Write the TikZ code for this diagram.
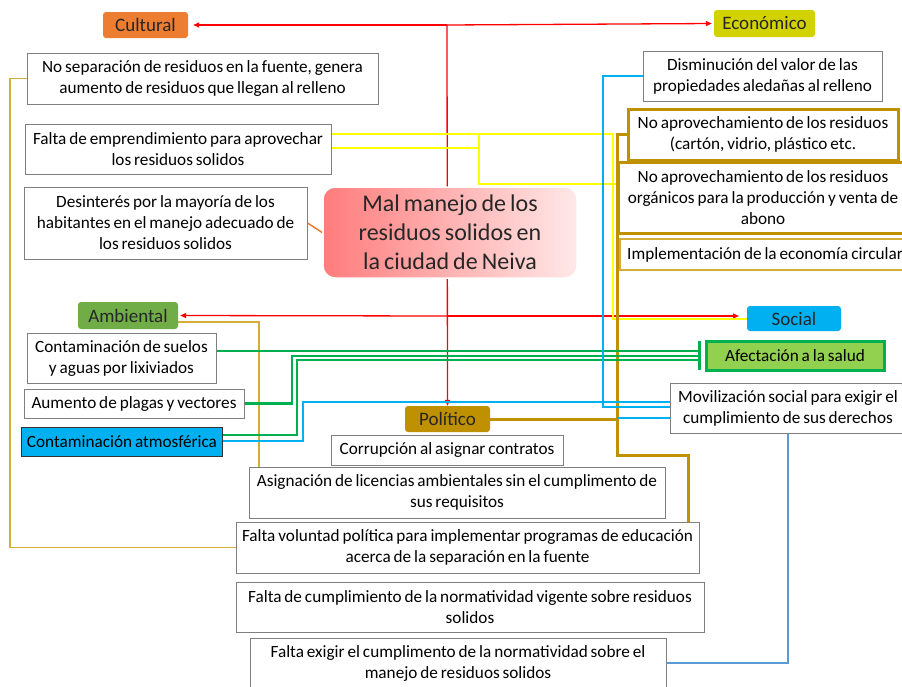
\documentclass[tikz,border=0pt]{standalone}
\usepackage{fontspec}
\setmainfont{Carlito}[WordSpace=0.75]
\usetikzlibrary{arrows.meta}
\pgfdeclarelayer{background}
\pgfsetlayers{background,main}

\definecolor{cOrange}{HTML}{ED7D31}
\definecolor{cYellow}{HTML}{D2D200}
\definecolor{cGreen}{HTML}{70AD47}
\definecolor{cCyan}{HTML}{00B0F0}
\definecolor{cGold}{HTML}{BF9000}
\definecolor{cGoldLt}{HTML}{D4AE3A}
\definecolor{cHealth}{HTML}{92D050}
\definecolor{cHealthBd}{HTML}{00B050}
\definecolor{cLineGreen}{HTML}{00B050}
\definecolor{cLineYellow}{HTML}{FFFF00}
\definecolor{cLightBlue}{HTML}{5B9BD5}
\definecolor{cBorder}{HTML}{7F7F7F}
\definecolor{cText}{HTML}{262626}
\definecolor{cenL}{HTML}{FF7C7C}
\definecolor{cenR}{HTML}{FFE8E8}

\newcommand\boxfont{\fontsize{17.2}{21}\selectfont}
\newcommand\catfont{\fontsize{19}{20}\selectfont}
\newcommand\cenfont{\fontsize{24}{29}\selectfont}

\tikzset{
  box/.style={draw=cBorder, line width=1pt, fill=white, align=center,
    inner sep=0pt, font=\boxfont, text=black},
  goldbox/.style={box, draw=cGold, line width=3pt},
  cat/.style={rounded corners=3pt, align=center, inner sep=0pt,
    font=\catfont, text=cText},
  redl/.style={draw=red, line width=1.3pt},
  tip/.style={-{Triangle[length=6pt,width=5pt]}},
  yell/.style={draw=cLineYellow, line width=2pt},
  goldl/.style={draw=cGold, line width=3pt},
  goldthin/.style={draw=cGoldLt, line width=1.5pt},
  greenl/.style={draw=cLineGreen, line width=2.2pt, -{Bar[width=20pt,line width=3pt]}},
  bluel/.style={draw=cCyan, line width=2pt},
}

\begin{document}
\begin{tikzpicture}[x=1pt,y=-1pt]
\useasboundingbox (0,0) rectangle (902,686);

% ---------- central problem ----------
\node[rounded corners=12pt, left color=cenL, right color=cenR, draw=white,
  line width=1.5pt, minimum width=254pt, minimum height=91pt, align=center,
  font=\cenfont, text=cText, inner sep=0pt] (central) at (450,232.5)
  {Mal manejo de los\\residuos solidos en\\la ciudad de Neiva};

% ---------- category labels ----------
\node[cat, fill=cOrange, minimum width=85pt, minimum height=26pt] (cult) at (145.5,25) {Cultural};
\node[cat, fill=cYellow, minimum width=101pt, minimum height=27pt] (econ) at (764.5,23.5) {Económico};
\node[cat, fill=cGreen, minimum width=100pt, minimum height=27pt] (amb) at (128,315.5) {Ambiental};
\node[cat, fill=cCyan, minimum width=94pt, minimum height=25pt] (soc) at (794,318.5) {Social};
\node[cat, fill=cGold, minimum width=85pt, minimum height=26pt] (pol) at (447.5,419) {Político};

% ---------- left column ----------
\node[box, minimum width=351pt, minimum height=51pt] (noSep) at (202.5,78.5)
  {No separación de residuos en la fuente, genera\\aumento de residuos que llegan al relleno};
\node[box, minimum width=306pt, minimum height=50pt] (faltaEmp) at (178,149)
  {Falta de emprendimiento para aprovechar\\los residuos solidos};
\node[box, minimum width=283pt, minimum height=72pt] (desint) at (165.5,223)
  {Desinterés por la mayoría de los\\habitantes en el manejo adecuado de\\los residuos solidos};
\node[box, minimum width=189pt, minimum height=50pt] (contSuelos) at (121.5,358)
  {Contaminación de suelos\\y aguas por lixiviados};
\node[box, minimum width=220pt, minimum height=29pt] (plagas) at (134,403.5)
  {Aumento de plagas y vectores};
\node[box, fill=cCyan, draw=black!80, minimum width=201pt, minimum height=29pt] (contAtm) at (122,441.5)
  {Contaminación atmosférica};

% ---------- right column ----------
\node[box, minimum width=239pt, minimum height=50pt] (dismin) at (762.5,76)
  {Disminución del valor de las\\propiedades aledañas al relleno};
\node[goldbox, minimum width=270pt, minimum height=51pt] (noAprovA) at (763,134.5)
  {No aprovechamiento de los residuos\\(cartón, vidrio, plástico etc.};
\node[goldbox, minimum width=290pt, minimum height=71pt] (noAprovB) at (763,197.5)
  {No aprovechamiento de los residuos\\orgánicos para la producción y venta de\\abono};
\node[box, draw=cGoldLt, line width=2pt, minimum width=290pt, minimum height=31pt] (implem) at (765,254.5)
  {Implementación de la economía circular};
\node[box, fill=cHealth, draw=cHealthBd, line width=3pt, minimum width=178pt, minimum height=29pt] (afect) at (795,355.5)
  {Afectación a la salud};
\node[box, minimum width=236pt, minimum height=50pt] (movil) at (788,408)
  {Movilización social para exigir el\\cumplimiento de sus derechos};

% ---------- bottom column ----------
\node[box, minimum width=232pt, minimum height=30pt] (corrup) at (447,450)
  {Corrupción al asignar contratos};
\node[box, minimum width=416pt, minimum height=51pt] (asign) at (457,492.5)
  {Asignación de licencias ambientales sin el cumplimento de\\sus requisitos};
\node[box, minimum width=463pt, minimum height=51pt] (voluntad) at (467.5,547.5)
  {Falta voluntad política para implementar programas de educación\\acerca de la separación en la fuente};
\node[box, minimum width=468pt, minimum height=50pt] (normVig) at (470,607)
  {Falta de cumplimiento de la normatividad vigente sobre residuos\\solidos};
\node[box, minimum width=416pt, minimum height=50pt] (exigir) at (458,663)
  {Falta exigir el cumplimento de la normatividad sobre el\\manejo de residuos solidos};

% ---------- junction points ----------
\coordinate (hubTop) at (447,25);
\coordinate (hubMid) at (447,316);
\coordinate (socIn) at (739,316);
\coordinate (yelA) at (479,134);
\coordinate (yelB) at (479,148);
\coordinate (yelC) at (479,184);
\coordinate (yelV) at (613,134);
\coordinate (goldV) at (617,134.5);
\coordinate (goldBend) at (617,455);
\coordinate (goldDrop) at (688,455);
\coordinate (goldPol) at (617,419);
\coordinate (ambDrop) at (259,322);
\coordinate (leftRail) at (10,78.5);
\coordinate (gA) at (701,351);
\coordinate (gB) at (701,356);
\coordinate (gC) at (701,360);
\coordinate (bendB) at (292,403.5);
\coordinate (bendC) at (297,435);
\coordinate (blueA) at (303,441);
\coordinate (blueAtop) at (303,402);
\coordinate (blueD) at (603,76);
\coordinate (blueDbot) at (603,407);
\coordinate (bluePol) at (617,418);

\begin{pgfonlayer}{background}
\fill[white] (0,0) rectangle (902,686);
% red hierarchy
\draw[redl, tip] (hubTop) -- ([xshift=5pt]cult.east);
\draw[redl, tip] (hubTop) -- ([xshift=-2pt]econ.west);
\draw[redl, tip] (hubTop) -- (pol.north);
\draw[redl, tip] (hubMid) -- ([xshift=2pt]amb.east);
\draw[redl, tip] (hubMid) -- (socIn);

% orange link
\draw[cOrange, line width=1.5pt] (desint.east) -- (central.west);

% yellow links
\draw[yell] (faltaEmp.east |- yelA) -- (yelV) -- (yelV |- soc.west) -- (soc.west);
\draw[yell] (faltaEmp.east |- yelB) -- (yelB) -- (yelC) -- (noAprovB.west |- yelC);
\draw[yell] (yelA) -- (yelB);

% gold links
\draw[goldl] (noAprovA.west) -- (goldV) -- (goldBend) -- (goldDrop) -- (goldDrop |- voluntad.north);
\draw[goldl] (pol.east) -- (goldPol);
\draw[goldthin] (amb.east |- ambDrop) -- (ambDrop) -- (ambDrop |- asign.north);
\draw[goldthin] (noSep.west) -- (leftRail) |- (voluntad.west);

% green links into health
\draw[greenl] (contSuelos.east |- gA) -- (gA);
\draw[greenl] (plagas.east) -- (bendB) -- (bendB |- gB) -- (gB);
\draw[greenl] (contAtm.east |- bendC) -- (bendC) -- (bendC |- gC) -- (gC);

% blue links into social mobilisation
\draw[bluel] (contAtm.east |- blueA) -- (blueA) -- (blueAtop) -- (movil.west |- blueAtop);
\draw[bluel] (dismin.west) -- (blueD) -- (blueDbot) -- (movil.west |- blueDbot);
\draw[bluel] (bluePol) -- (movil.west |- bluePol);
\draw[cLightBlue, line width=1.5pt] (movil.south) |- (exigir.east);
\end{pgfonlayer}
\end{tikzpicture}
\end{document}
